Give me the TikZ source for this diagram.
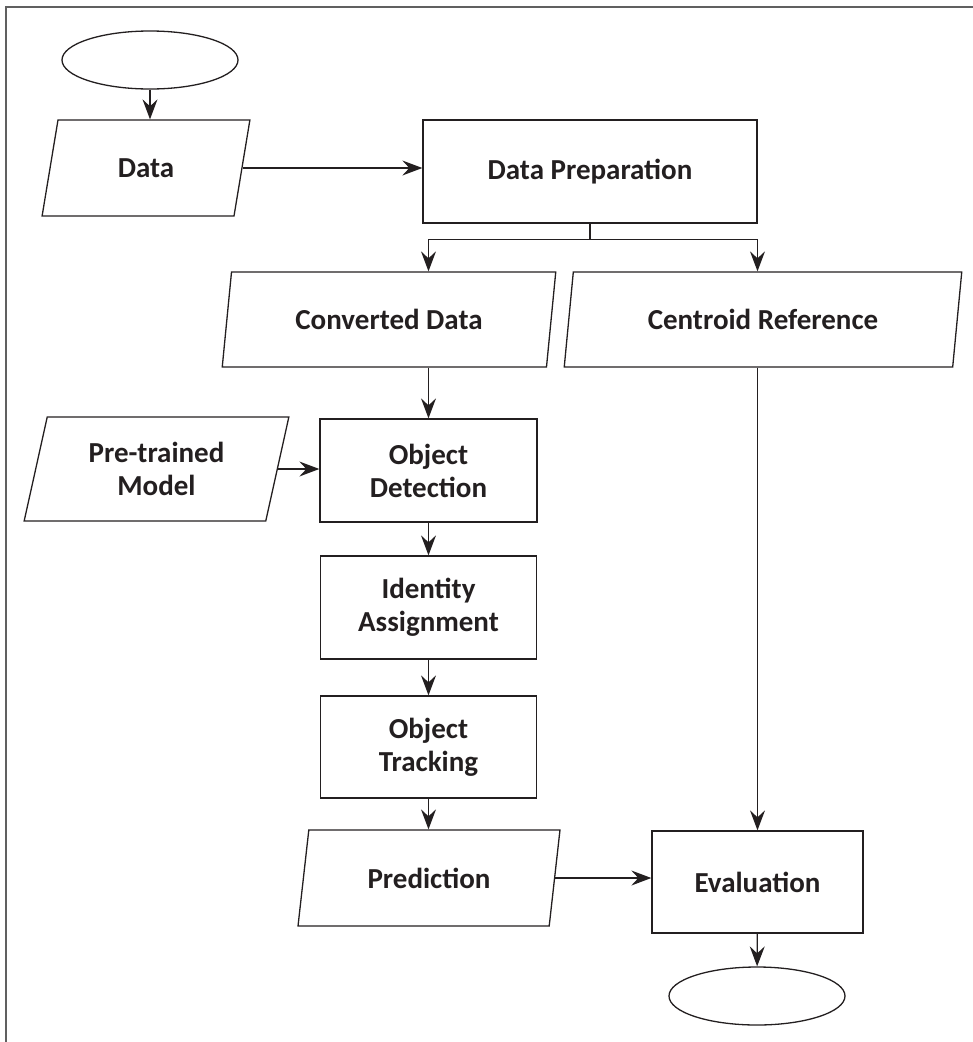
\documentclass[tikz,border=0pt]{standalone}
\usepackage{fontspec}
\setmainfont{Carlito}
\usetikzlibrary{arrows.meta,positioning,shapes.geometric}
\definecolor{ink}{HTML}{231F20}
\tikzset{
  every node/.style={font=\bfseries\fontsize{29}{33}\selectfont, text=ink, align=center},
  term/.style ={draw=ink, line width=1.3pt, ellipse, minimum width=176pt, minimum height=58pt, inner sep=0pt},
  io/.style   ={draw=ink, line width=1.3pt, trapezium, trapezium left angle=75, trapezium right angle=105,
                trapezium stretches=true, inner sep=0pt},
  proc/.style ={draw=ink, line width=1.3pt, rectangle, inner sep=0pt},
  flow/.style ={draw=ink, line width=1.3pt, -{Stealth[length=20pt,width=15pt,inset=7pt]}}
}

\begin{document}
\begin{tikzpicture}[x=1pt, y=-1pt]
\useasboundingbox (0,0) rectangle (973,1042);
\draw[gray!75!black, line width=2.6pt] (6,1042) -- (6,7) -- (973,7);

\node[term] (start) at (150,60) {};
\node[io, minimum width=208pt, minimum height=96pt] (data) at (146,168) {Data};
\node[proc, minimum width=334pt, minimum height=103pt] (prep) at (590,171.5) {Data Preparation};
\node[io, minimum width=334pt, minimum height=95pt] (conv) at (389,319.5) {Converted Data};
\node[io, minimum width=398pt, minimum height=95pt] (cref) at (763,319.5) {Centroid Reference};
\node[io, minimum width=265pt, minimum height=104pt] (model) at (156.5,469) {Pre-trained\\Model};
\node[proc, minimum width=217pt, minimum height=103pt] (detect) at (428.5,470.5) {Object\\Detection};
\node[proc, minimum width=216pt, minimum height=103pt] (ident) at (428.5,607.5) {Identity\\Assignment};
\node[proc, minimum width=216pt, minimum height=102pt] (track) at (428.5,747) {Object\\Tracking};
\node[io, minimum width=262pt, minimum height=96pt] (pred) at (429,878) {Prediction};
\node[proc, minimum width=211pt, minimum height=102pt] (eval) at (757.5,882) {Evaluation};
\node[term] (stop) at (757,996) {};

\draw[flow] (start) -- (start.south |- data.north);
\draw[flow] (data.east) -- (data.east -| prep.west);
\draw[flow] (prep.south) -- ++(0,16) -| (conv.north -| detect.north);
\draw[flow] (prep.south) ++(0,16) -| (cref.north -| eval.north);
\draw[flow] (conv.south -| detect.north) -- (detect.north);
\draw[flow] (model.east) -- (model.east -| detect.west);
\draw[flow] (detect) -- (ident);
\draw[flow] (ident) -- (track);
\draw[flow] (track.south) -- (track.south |- pred.north);
\draw[flow] (cref.south -| eval.north) -- (eval.north);
\draw[flow] (pred.east) -- (pred.east -| eval.west);
\draw[flow] (eval) -- (stop);
\end{tikzpicture}
\end{document}
